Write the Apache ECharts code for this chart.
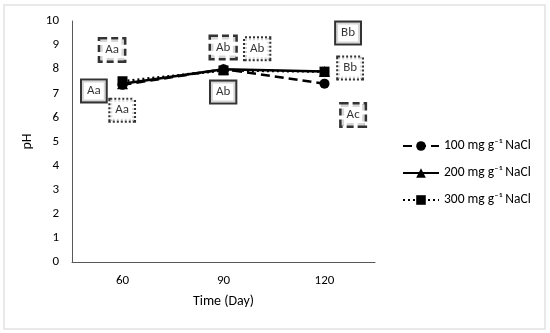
<!DOCTYPE html>
<html><head><meta charset="utf-8">
<script src="https://cdn.jsdelivr.net/npm/echarts@6/dist/echarts.min.js"></script>
<style>html,body{margin:0;padding:0;background:#fff}#c{width:550px;height:333px}</style>
</head><body><div id="c"></div>
<script>
var categories = ['60', '90', '120'];
var seriesNames = ['100 mg g\u207B\u00B9 NaCl', '200 mg g\u207B\u00B9 NaCl', '300 mg g\u207B\u00B9 NaCl'];
var ph100 = [7.35, 8.0, 7.4];
var ph200 = [7.4, 8.0, 7.9];
var ph300 = [7.5, 7.95, 7.9];
var yTicks = [0, 1, 2, 3, 4, 5, 6, 7, 8, 9, 10];
// annotation letters: [day position, pH position, text, border style]
var annotations = [
  [56.9, 8.8, 'Aa', 'dashed'],
  [51.5, 7.1, 'Aa', 'solid'],
  [59.9, 6.3, 'Aa', 'dotted'],
  [89.9, 8.9, 'Ab', 'dashed'],
  [100.0, 8.85, 'Ab', 'dotted'],
  [89.9, 7.05, 'Ab', 'solid'],
  [127.0, 9.5, 'Bb', 'solid'],
  [127.6, 8.05, 'Bb', 'dotted'],
  [128.5, 6.1, 'Ac', 'dashed']
];

var FONT = 'Carlito, Lato, "Open Sans", sans-serif';
var styleMap = {
  solid: {borderType: 'solid', borderWidth: 2},
  dashed: {borderType: [7, 4], borderWidth: 2.5},
  dotted: {borderType: [2, 2], borderWidth: 2}
};
var annData = annotations.map(function (a) {
  var s = styleMap[a[3]];
  return {
    value: [a[0], a[1]],
    label: {formatter: a[2], borderType: s.borderType, borderWidth: s.borderWidth}
  };
});

function lineSeries(name, data, symbol, type) {
  return {
    name: name, type: 'line', data: data, symbol: symbol, symbolSize: symbol === 'triangle' ? 11 : 10,
    color: '#000',
    lineStyle: {color: '#000', width: 2.5, type: type},
    itemStyle: {color: '#000'}
  };
}

var chart = echarts.init(document.getElementById('c'));
chart.setOption({
  animation: false,
  textStyle: {fontFamily: FONT},
  graphic: [{
    type: 'rect', shape: {x: 4, y: 5, width: 541, height: 324},
    style: {fill: 'none', stroke: '#e2e2e2', lineWidth: 1.5}, silent: true, z: -1
  }],
  grid: {left: 72, top: 21, right: 175, bottom: 71},
  legend: {
    orient: 'vertical', left: 397, top: 134,
    itemWidth: 36, itemHeight: 12, itemGap: 13,
    data: seriesNames,
    textStyle: {fontFamily: FONT, fontSize: 13.5, color: '#000'}
  },
  xAxis: [{
    type: 'category', data: categories,
    axisLine: {lineStyle: {color: '#595959', width: 1}},
    axisTick: {show: false},
    axisLabel: {fontFamily: FONT, fontSize: 13, color: '#000', margin: 12},
    name: 'Time (Day)', nameLocation: 'middle', nameGap: 32,
    nameTextStyle: {fontFamily: FONT, fontSize: 14, color: '#000'}
  }, {
    type: 'value', min: 45, max: 135, show: false
  }],
  yAxis: {
    type: 'value', min: 0, max: 10, interval: 1,
    axisLine: {show: true, lineStyle: {color: '#595959', width: 1}},
    axisTick: {show: false},
    splitLine: {show: false},
    axisLabel: {fontFamily: FONT, fontSize: 13, color: '#000', margin: 13,
      formatter: function (v) { return yTicks.indexOf(v) >= 0 ? String(v) : ''; }},
    name: 'pH', nameLocation: 'middle', nameGap: 31, nameRotate: 90,
    nameTextStyle: {fontFamily: FONT, fontSize: 14, color: '#000'}
  },
  series: [
    lineSeries(seriesNames[0], ph100, 'circle', [9, 5]),
    lineSeries(seriesNames[1], ph200, 'triangle', 'solid'),
    lineSeries(seriesNames[2], ph300, 'rect', [2, 3]),
    {
      type: 'scatter', xAxisIndex: 1, data: annData, symbolSize: 1,
      itemStyle: {color: 'rgba(0,0,0,0)'}, silent: true, z: 5,
      label: {
        show: true, position: 'inside', fontFamily: FONT, fontSize: 13, color: '#000',
        borderColor: '#000', padding: [5, 5, 3, 5], backgroundColor: '#fff'
      }
    }
  ]
});
</script></body></html>
